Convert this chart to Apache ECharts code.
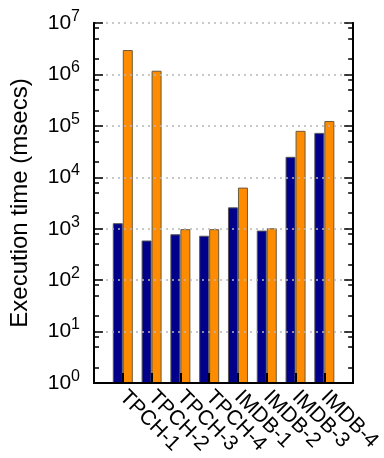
<!DOCTYPE html>
<html>
<head>
<meta charset="utf-8">
<script src="https://cdn.jsdelivr.net/npm/echarts@6/dist/echarts.min.js"></script>
<style>
html,body{margin:0;padding:0;background:#fff;}
#chart{width:384px;height:458px;}
</style>
</head>
<body>
<div id="chart"></div>
<script>
// Data
var categories = ['TPCH-1','TPCH-2','TPCH-3','TPCH-4','IMDB-1','IMDB-2','IMDB-3','IMDB-4'];
var blueValues = [1280, 590, 780, 730, 2600, 920, 25000, 73000];
var orangeValues = [2980000, 1180000, 980, 980, 6300, 1020, 80000, 124000];
var minorMantissas = [2, 5, 8];

var font = 'Liberation Sans, Arial, Helvetica, sans-serif';
var axisCats = [''].concat(categories).concat(['']);
function pad(arr){ return ['-'].concat(arr).concat(['-']); }

var minorLogs = [];
for (var k = 0; k < 7; k++) {
  minorMantissas.forEach(function(m){ minorLogs.push(k + Math.log10(m)); });
}

function minorAxis(pos) {
  return {
    type: 'value', min: 0, max: 7, interval: 1, position: pos, z: 6, show: true,
    axisLine: {show: true, lineStyle: {color: '#000', width: 2}},
    axisTick: {show: true, inside: true, length: 5, customValues: minorLogs, lineStyle: {color: '#000', width: 1.5}},
    axisLabel: {show: false, customValues: minorLogs},
    splitLine: {show: false}
  };
}

var chart = echarts.init(document.getElementById('chart'), null, {renderer:'canvas'});
chart.setOption({
  animation: false,
  backgroundColor: '#fff',
  grid: {left: 92, right: 25, top: 23, bottom: 75, containLabel: false},
  xAxis: [{
    type: 'category',
    data: axisCats,
    boundaryGap: false,
    position: 'bottom',
    z: 5,
    axisLine: {show: true, lineStyle: {color: '#000', width: 2}},
    axisTick: {show: true, inside: true, length: 10, interval: 0, lineStyle: {color: '#000', width: 2}},
    axisLabel: {show: true, interval: 0, rotate: -45, margin: 11, color: '#000', fontSize: 21, fontFamily: font},
    splitLine: {show: false}
  }, {
    type: 'category',
    data: axisCats,
    boundaryGap: false,
    position: 'top',
    z: 5,
    axisLine: {show: true, lineStyle: {color: '#000', width: 2}},
    axisTick: {show: false},
    axisLabel: {show: false},
    splitLine: {show: false}
  }],
  yAxis: [{
    type: 'log',
    logBase: 10,
    min: 1,
    max: 1e7,
    splitNumber: 7,
    position: 'left',
    z: 5,
    axisLine: {show: true, lineStyle: {color: '#000', width: 2}},
    axisTick: {show: true, inside: true, length: 9, lineStyle: {color: '#000', width: 1.5}},
    axisLabel: {
      show: true, margin: 14, color: '#000',
      formatter: function(v){ return '{b|10}{s|' + Math.round(Math.log10(v)) + '}'; },
      rich: {
        b: {fontSize: 21, lineHeight: 21, fontFamily: font, color: '#000', verticalAlign: 'bottom'},
        s: {fontSize: 16, lineHeight: 16, fontFamily: font, color: '#000', verticalAlign: 'bottom', padding: [0, 0, 9, 0]}
      }
    },
    splitLine: {show: true, lineStyle: {color: '#b8b8b8', width: 1.5, type: [2, 4]}},
    name: 'Execution time (msecs)',
    nameLocation: 'middle',
    nameGap: 62,
    nameTextStyle: {fontSize: 24, color: '#000', fontFamily: font}
  }, minorAxis('left'), {
    type: 'log', logBase: 10, min: 1, max: 1e7, splitNumber: 7, position: 'right', z: 5,
    axisLine: {show: true, lineStyle: {color: '#000', width: 2}},
    axisTick: {show: true, inside: true, length: 9, lineStyle: {color: '#000', width: 1.5}},
    axisLabel: {show: false},
    splitLine: {show: false}
  }, minorAxis('right')],
  series: [{
    type: 'bar',
    xAxisIndex: 0, yAxisIndex: 0,
    data: pad(blueValues),
    barWidth: 10,
    barGap: '0%',
    itemStyle: {color: '#00008B', borderColor: '#555', borderWidth: 1}
  }, {
    type: 'bar',
    xAxisIndex: 0, yAxisIndex: 0,
    data: pad(orangeValues),
    barWidth: 10,
    barGap: '0%',
    itemStyle: {color: '#FF8C00', borderColor: '#6b5a3a', borderWidth: 1}
  }]
});
</script>
</body>
</html>
